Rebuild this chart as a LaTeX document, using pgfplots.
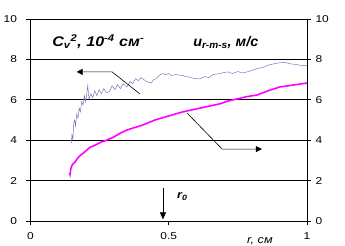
\documentclass[border=0pt]{standalone}
\usepackage{fontspec}
\setmainfont{Liberation Sans}
\usepackage{pgfplots}
\pgfplotsset{compat=1.18}
\usetikzlibrary{arrows.meta}
\definecolor{cvblue}{RGB}{110,110,185}
\definecolor{urms}{RGB}{255,0,255}
\newcommand{\sx}[1]{\scalebox{1.2}[1]{#1}}
\begin{document}
\begin{tikzpicture}
\pgfplotsset{
  common/.style={
    at={(0,0)}, anchor=south west, scale only axis,
    width=276.5bp, height=202bp,
    xmin=0, xmax=1, ymin=0, ymax=10,
    ytick={0,2,4,6,8,10},
    yticklabels={\sx{0},\sx{2},\sx{4},\sx{6},\sx{8},\sx{10}},
    axis line style={line width=0.8pt},
    tick style={black, line width=0.8pt},
    tick align=outside, major tick length=4bp,
    /pgf/number format/assume math mode=true,
    ticklabel style={font=\fontsize{10}{12}\selectfont},
    clip=false,
  }
}
\begin{axis}[common,
  xtick={0,0.5,1}, xticklabels={\sx{0},\sx{0.5},\sx{1}},
  xtick pos=bottom, ytick pos=left,
  ymajorgrids, grid style={black, line width=0.8pt},
  yticklabel style={xshift=-6bp},
  xticklabel style={yshift=-4bp},
]
\addplot[cvblue, line width=0.45pt] coordinates {
(0.148,3.86) (0.150,4.3) (0.153,4.0) (0.157,4.9) (0.160,5.0) (0.163,4.7)
(0.167,5.3) (0.172,5.1) (0.176,5.6) (0.180,5.4) (0.185,5.9) (0.190,5.74)
(0.195,6.2) (0.200,5.9) (0.207,6.7) (0.212,6.0) (0.218,6.3) (0.225,6.1)
(0.232,6.45) (0.240,6.2) (0.248,6.5) (0.256,6.3) (0.265,6.55) (0.275,6.35)
(0.286,6.4) (0.295,6.7) (0.305,6.5) (0.315,6.75) (0.325,6.55) (0.335,6.8)
(0.348,6.63) (0.36,6.9) (0.37,6.8) (0.38,7.05) (0.39,6.95) (0.40,7.1)
(0.41,7.0) (0.42,6.9) (0.437,6.83) (0.445,7.0) (0.455,7.05) (0.465,7.2)
(0.478,7.3) (0.49,7.25) (0.50,7.3) (0.51,7.2) (0.525,7.25) (0.55,7.2)
(0.565,7.15) (0.58,7.1) (0.595,7.05) (0.612,7.03) (0.63,7.15) (0.645,7.1)
(0.66,7.25) (0.685,7.3) (0.70,7.35) (0.714,7.38) (0.73,7.3) (0.75,7.4)
(0.765,7.33) (0.78,7.37) (0.80,7.45) (0.82,7.55) (0.84,7.6) (0.86,7.72)
(0.88,7.78) (0.90,7.83) (0.92,7.85) (0.94,7.78) (0.96,7.75) (0.98,7.7) (1.0,7.7)
};
\addplot[urms, line width=1.6pt] coordinates {
(0.141,2.38) (0.143,2.3) (0.146,2.6) (0.150,2.75) (0.155,2.85) (0.160,2.9)
(0.170,3.1) (0.180,3.25) (0.190,3.35) (0.203,3.5) (0.215,3.65) (0.225,3.7)
(0.24,3.8) (0.255,3.9) (0.275,4.0) (0.30,4.15) (0.325,4.35) (0.348,4.5)
(0.37,4.6) (0.395,4.7) (0.424,4.85) (0.45,5.0) (0.48,5.12) (0.50,5.2)
(0.55,5.4) (0.60,5.55) (0.65,5.7) (0.685,5.8) (0.714,5.94) (0.75,6.05)
(0.78,6.15) (0.82,6.24) (0.86,6.45) (0.90,6.63) (0.95,6.73) (1.0,6.83)
};
\draw[black, line width=0.6pt, {Triangle[length=6bp,width=6bp]}-] (axis cs:0.167,7.38) -- (axis cs:0.295,7.38) -- (axis cs:0.396,6.29);
\draw[black, line width=0.6pt, -{Triangle[length=6bp,width=6bp]}] (axis cs:0.566,5.35) -- (axis cs:0.693,3.56) -- (axis cs:0.837,3.56);
\draw[black, line width=0.6pt, -{Triangle[length=7bp,width=6bp]}] (axis cs:0.479,1.63) -- (axis cs:0.479,0.08);
\node[anchor=base west, font=\bfseries\itshape\fontsize{14}{16}\selectfont, inner sep=0pt] at (axis cs:0.078,8.63) {\scalebox{1.15}[1]{C\textsubscript{v}\textsuperscript{2}, 10\textsuperscript{-4} см\textsuperscript{-}}};
\node[anchor=base west, font=\bfseries\itshape\fontsize{14}{16}\selectfont, inner sep=0pt] at (axis cs:0.588,8.63) {\scalebox{1.03}[1]{u\textsubscript{r-m-s}, м/с}};
\node[anchor=base west, font=\bfseries\itshape\fontsize{11}{13}\selectfont, inner sep=0pt] at (axis cs:0.53,1.09) {\scalebox{1.15}[1]{r\textsubscript{0}}};
\node[anchor=base west, font=\itshape\fontsize{11}{13}\selectfont, inner sep=0pt] at (axis cs:0.783,-1.12) {\scalebox{1.15}[1]{r, см}};
\end{axis}
\begin{axis}[common,
  hide x axis, axis y line*=right,
  ytick pos=right, yticklabel pos=right,
  yticklabel style={xshift=1bp},
]
\addplot[draw=none] coordinates {(0,0)};
\end{axis}
\pgfresetboundingbox
\path[use as bounding box] (-30.5bp,-25bp) rectangle (314.5bp,221bp);
\end{tikzpicture}
\end{document}
